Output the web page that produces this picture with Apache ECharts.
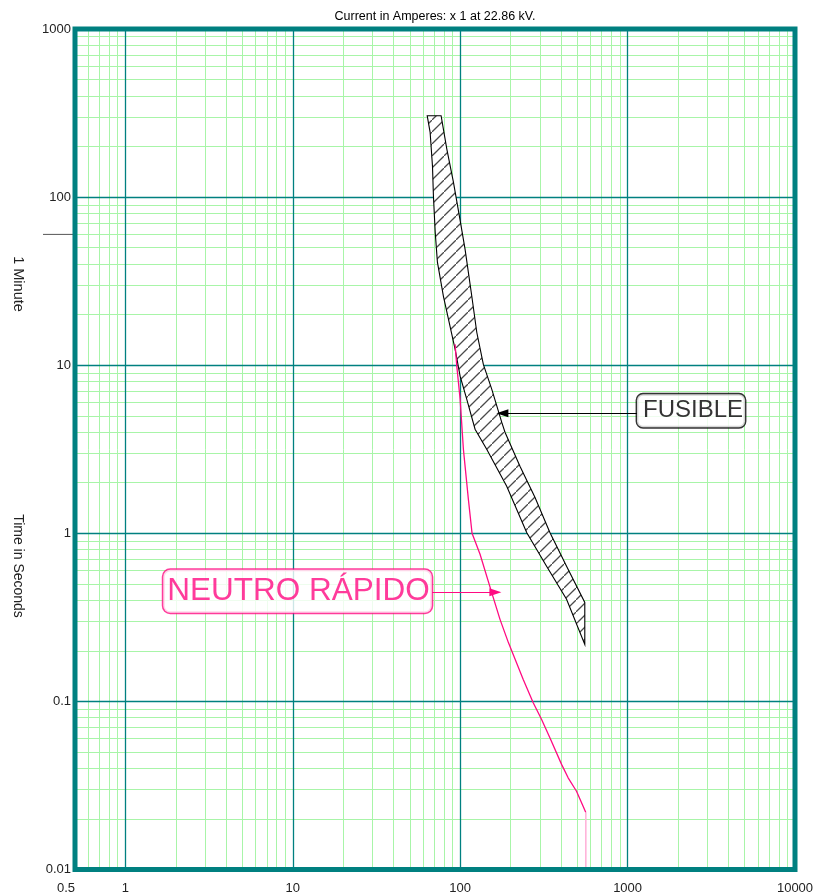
<!DOCTYPE html>
<html><head><meta charset="utf-8">
<script src="https://cdn.jsdelivr.net/npm/echarts@6/dist/echarts.min.js"></script>
<style>html,body{margin:0;padding:0;background:#fff}#c{width:813px;height:894px}</style>
</head><body><div id="c"></div>
<script>
// ---- data (current in A, time in s) ----
const xTickLabels = ['0.5', '1', '10', '100', '1000', '10000'];
const yTickLabels = ['0.01', '0.1', '1', '10', '100', '1000'];

// Fuse band: minimum melt (left) and total clearing (right)
const fuseMinMeltI = [63.5, 66.1, 68.3, 69.2, 70.9, 73.1, 79.4, 93.2, 99.9, 109.5, 122.7, 144.0, 189.6, 249.5, 328.1, 431.9, 555];
const fuseMinMeltT = [305, 243.8, 152.9, 101.4, 61.9, 41.0, 25.7, 12.45, 8.60, 6.27, 4.16, 3.16, 1.905, 1.01, 0.636, 0.405, 0.218];
const fuseClearI = [76.9, 83.2, 91.1, 98.9, 106.9, 117.3, 125.6, 137.5, 154.3, 177.0, 185.2, 227.5, 279.5, 343.4, 431.9, 555];
const fuseClearT = [305, 193.1, 122.9, 77.1, 49.0, 25.7, 15.7, 10.1, 7.2, 4.58, 3.99, 2.506, 1.638, 1.01, 0.636, 0.388];

// Neutral fast relay curve
const neutroI = [93.2, 95.4, 99.9, 104.5, 111.9, 117.7, 131.4, 154.3, 172.9, 193.8, 238.0, 273.0, 306.4, 343.4, 403.2, 441.4, 495.3, 542.3, 562.8];
const neutroT = [13.33, 9.90, 6.27, 3.16, 1.594, 1.0, 0.750, 0.4436, 0.3076, 0.2245, 0.1352, 0.0982, 0.0781, 0.0608, 0.0422, 0.0351, 0.0292, 0.0238, 0.0218];
const neutroInstI = [562.8, 562.8];
const neutroInstT = [0.0218, 0.01];

// Annotations
const fuseLabel = {text: 'FUSIBLE', at: [1138, 5.36], arrowFrom: [1138, 5.18], arrowTo: [178.6, 5.18]};
const neutroLabel = {text: 'NEUTRO RÁPIDO', at: [1.684, 0.4518], arrowFrom: [67.96, 0.4457], arrowTo: [162.3, 0.4457]};
const oneMinute = 60;

const titleText = 'Current in Amperes: x 1 at 22.86 kV.';
const yTitle = 'Time in Seconds';
const minuteText = '1 Minute';

// ---- build ----
const FONT = "'Liberation Sans', Arial, sans-serif";
const TEAL = '#008080';
const MINOR = '#a8f5a8';
const PINK = '#ff0a82';

function fmt(v) { return String(+(+v).toPrecision(6)); }

const xMinor = [0.6, 0.7, 0.8, 0.9];
for (let k = 0; k <= 3; k++) for (let m = 2; m <= 9; m++) xMinor.push(+(m * Math.pow(10, k)).toPrecision(6));
const yMinor = [];
for (let k = -2; k <= 2; k++) for (let m = 2; m <= 9; m++) yMinor.push(+(m * Math.pow(10, k)).toPrecision(6));
const xMajor = xTickLabels.map(Number).filter(v => v >= 1 && v < 10000);
const yMajor = yTickLabels.map(Number).filter(v => v > 0.01 && v < 1000);

const bandPoints = fuseMinMeltI.map((x, i) => [x, fuseMinMeltT[i]])
  .concat(fuseClearI.map((x, i) => [x, fuseClearT[i]]).reverse());
const neutroData = neutroI.map((x, i) => [x, neutroT[i]]);
const neutroInstData = neutroInstI.map((x, i) => [x, neutroInstT[i]]);

// hatch pattern
const S = 12;
const cv = document.createElement('canvas');
cv.width = S; cv.height = S;
const cx = cv.getContext('2d');
cx.fillStyle = '#fff'; cx.fillRect(0, 0, S, S);
cx.strokeStyle = '#4a4a4a'; cx.lineWidth = 1.25;
cx.beginPath(); cx.moveTo(-2, S + 2); cx.lineTo(S + 2, -2); cx.stroke();
const hatch = {image: cv, repeat: 'repeat'};

const chart = echarts.init(document.getElementById('c'), null, {renderer: 'canvas'});
chart.setOption({
  animation: false,
  backgroundColor: '#fff',
  grid: {left: 75, right: 18, top: 29, bottom: 24.5, show: true, borderColor: TEAL, borderWidth: 5, backgroundColor: 'transparent', outerBoundsMode: 'none', containLabel: false, z: 10},
  xAxis: {
    type: 'log', logBase: 10, min: 0.5, max: 10000, splitNumber: 5,
    axisLine: {show: false}, axisTick: {show: false},
    splitLine: {show: false},
    axisLabel: {show: true, margin: 12, fontSize: 13, fontFamily: FONT, color: '#222', alignMinLabel: 'right', showMinLabel: true, showMaxLabel: true, hideOverlap: false,
      formatter: v => { const s = fmt(v); return xTickLabels.includes(s) ? s : ''; }}
  },
  yAxis: {
    type: 'log', logBase: 10, min: 0.01, max: 1000, splitNumber: 5,
    axisLine: {show: false}, axisTick: {show: false},
    splitLine: {show: false},
    axisLabel: {show: true, margin: 4, fontSize: 13, fontFamily: FONT, color: '#222', showMinLabel: true, showMaxLabel: true, hideOverlap: false,
      formatter: v => { const s = fmt(v); return yTickLabels.includes(s) ? s : ''; }}
  },
  series: [
    {
      name: 'minor-grid', type: 'line', data: [], z: 1, silent: true,
      markLine: {silent: true, z: 1, symbol: 'none', animation: false, label: {show: false},
        lineStyle: {color: MINOR, width: 1, type: 'solid'},
        emphasis: {disabled: true},
        data: xMinor.map(v => ({xAxis: v})).concat(yMinor.map(v => ({yAxis: v})))}
    },
    {
      name: 'major-grid', type: 'line', data: [], z: 1, silent: true,
      markLine: {silent: true, z: 2, symbol: 'none', animation: false, label: {show: false},
        lineStyle: {color: TEAL, width: 1.3, type: 'solid'},
        emphasis: {disabled: true},
        data: xMajor.map(v => ({xAxis: v})).concat(yMajor.map(v => ({yAxis: v})))}
    },
    {
      name: 'FUSIBLE', type: 'custom', z: 3, silent: true,
      data: bandPoints,
      encode: {x: 0, y: 1},
      renderItem: function (params, api) {
        if (params.dataIndex !== 0) return null;
        const pts = bandPoints.map(p => api.coord(p));
        return {type: 'polygon', shape: {points: pts}, style: {fill: hatch, stroke: '#000', lineWidth: 1.1}};
      }
    },
    {
      name: 'NEUTRO RÁPIDO', type: 'line', z: 4, silent: true, data: neutroData,
      showSymbol: false, symbol: 'none', lineStyle: {color: PINK, width: 1.3}
    },
    {
      name: 'NEUTRO inst', type: 'line', z: 4, silent: true, data: neutroInstData,
      showSymbol: false, symbol: 'none', lineStyle: {color: '#ffb4da', width: 1.6}
    },
    {
      name: 'fuse-label', type: 'scatter', z: 6, silent: true, symbolSize: 0,
      data: [fuseLabel.at],
      label: {show: true, position: 'right', distance: 0, formatter: fuseLabel.text,
        fontFamily: FONT, fontSize: 24, color: '#000', backgroundColor: '#fff',
        borderColor: '#000', borderWidth: 1.4, borderRadius: 6, padding: [5, 2, 4, 6]},
      markLine: {silent: true, z: 6, symbol: ['none', 'triangle'], symbolSize: [8, 12], label: {show: false},
        lineStyle: {color: '#000', width: 1, type: 'solid'},
        itemStyle: {color: '#000'},
        data: [[{coord: fuseLabel.arrowFrom}, {coord: fuseLabel.arrowTo}]]}
    },
    {
      name: 'neutro-label', type: 'scatter', z: 6, silent: true, symbolSize: 0,
      data: [neutroLabel.at],
      label: {show: true, position: 'right', distance: 0, formatter: neutroLabel.text,
        fontFamily: FONT, fontSize: 31.5, color: PINK, backgroundColor: '#fff',
        borderColor: PINK, borderWidth: 1.5, borderRadius: 7, padding: [6, 2, 5, 4]},
      markLine: {silent: true, z: 6, symbol: ['none', 'triangle'], symbolSize: [8, 12], label: {show: false},
        lineStyle: {color: PINK, width: 1, type: 'solid'},
        itemStyle: {color: PINK},
        data: [[{coord: neutroLabel.arrowFrom}, {coord: neutroLabel.arrowTo}]]}
    }
  ]
});

const minuteY = chart.convertToPixel({xAxisIndex: 0, yAxisIndex: 0}, [1, oneMinute])[1];
chart.setOption({
  graphic: [
    {type: 'text', x: 435, y: 17, style: {text: titleText, font: '12.5px ' + FONT, fill: '#000', textAlign: 'center', textVerticalAlign: 'middle'}},
    {type: 'text', x: 18, y: 566, rotation: -Math.PI / 2, style: {text: yTitle, font: '14px ' + FONT, fill: '#222', textAlign: 'center', textVerticalAlign: 'middle'}},
    {type: 'text', x: 18, y: 284, rotation: -Math.PI / 2, style: {text: minuteText, font: '14.5px ' + FONT, fill: '#222', textAlign: 'center', textVerticalAlign: 'middle'}},
    {type: 'line', shape: {x1: 43, y1: minuteY, x2: 73, y2: minuteY}, style: {stroke: '#555', lineWidth: 1}}
  ]
});
</script></body></html>
